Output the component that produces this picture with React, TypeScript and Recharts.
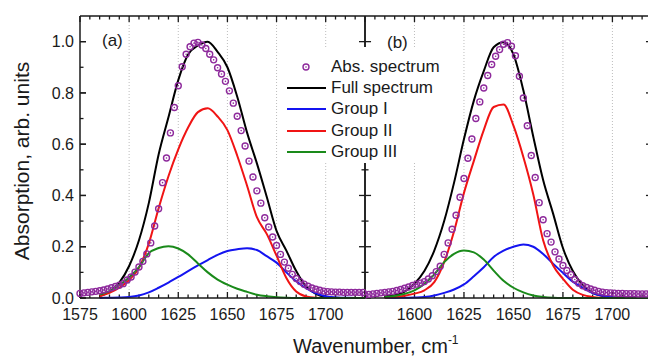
import { ComposedChart, Line, XAxis, YAxis, CartesianGrid, Legend, Label, ReferenceLine } from "recharts";

// measured absorption spectrum, sampled every 2 cm-1
const absWavenumbers = [
  1575, 1577, 1579, 1581, 1583, 1585, 1587, 1589, 1591, 1593, 1595, 1597, 1599, 1601, 1603, 1605,
  1607, 1609, 1611, 1613, 1615, 1617, 1619, 1621, 1623, 1625, 1627, 1629, 1631, 1633, 1635, 1637,
  1639, 1641, 1643, 1645, 1647, 1649, 1651, 1653, 1655, 1657, 1659, 1661, 1663, 1665, 1667, 1669,
  1671, 1673, 1675, 1677, 1679, 1681, 1683, 1685, 1687, 1689, 1691, 1693, 1695, 1697, 1699, 1701,
  1703, 1705, 1707, 1709, 1711, 1713, 1715, 1717, 1719,
];

// fitted curves, every 5 cm-1
const fitWavenumbers = [
  1585, 1590, 1595, 1600, 1605, 1610, 1615, 1620, 1625, 1630, 1635, 1640, 1645, 1650, 1655, 1660,
  1665, 1670, 1675, 1680, 1685, 1690, 1695, 1700, 1705, 1710, 1715, 1720,
];

// panel (a)
const absA = [
  0.018, 0.02, 0.022, 0.024, 0.026, 0.028, 0.031, 0.035, 0.04, 0.045, 0.05, 0.056, 0.07, 0.082, 0.101, 0.121,
  0.143, 0.172, 0.215, 0.281, 0.348, 0.45, 0.546, 0.644, 0.743, 0.828, 0.902, 0.951, 0.98, 0.994, 0.997, 0.987,
  0.973, 0.951, 0.929, 0.898, 0.874, 0.845, 0.808, 0.76, 0.709, 0.653, 0.593, 0.534, 0.472, 0.418, 0.37, 0.313,
  0.277, 0.238, 0.205, 0.17, 0.14, 0.116, 0.092, 0.076, 0.064, 0.054, 0.046, 0.039, 0.034, 0.03, 0.027, 0.025,
  0.024, 0.023, 0.023, 0.022, 0.022, 0.022, 0.022, 0.022, 0.022,
];
const fullA = [
  0.008, 0.025, 0.06, 0.125, 0.225, 0.37, 0.56, 0.705, 0.85, 0.95, 0.985, 1.0, 0.96, 0.9, 0.785, 0.645,
  0.525, 0.395, 0.262, 0.185, 0.105, 0.045, 0.016, 0.004, 0.001, 0, 0, 0,
];
const group1A = [
  0, 0.001, 0.002, 0.004, 0.01, 0.022, 0.04, 0.06, 0.082, 0.105, 0.127, 0.148, 0.168, 0.183, 0.19, 0.194,
  0.187, 0.163, 0.138, 0.1, 0.065, 0.038, 0.018, 0.007, 0.002, 0.001, 0, 0,
];
const group2A = [
  0.007, 0.02, 0.04, 0.07, 0.118, 0.212, 0.35, 0.475, 0.58, 0.665, 0.725, 0.74, 0.708, 0.655, 0.555, 0.438,
  0.315, 0.25, 0.165, 0.078, 0.025, 0.006, 0.001, 0, 0, 0, 0, 0,
];
const group3A = [
  0.014, 0.027, 0.05, 0.08, 0.12, 0.175, 0.195, 0.202, 0.193, 0.17, 0.135, 0.1, 0.072, 0.052, 0.036, 0.024,
  0.013, 0.007, 0.003, 0.001, 0, 0, 0, 0, 0, 0, 0, 0,
];

// panel (b)
const absB = [
  0.012, 0.014, 0.016, 0.018, 0.02, 0.022, 0.024, 0.026, 0.029, 0.033, 0.038, 0.043, 0.049, 0.054, 0.058, 0.064,
  0.074, 0.087, 0.103, 0.124, 0.17, 0.215, 0.268, 0.323, 0.393, 0.466, 0.545, 0.62, 0.7, 0.765, 0.819, 0.868,
  0.911, 0.943, 0.969, 0.99, 0.996, 0.982, 0.945, 0.865, 0.78, 0.672, 0.556, 0.47, 0.372, 0.305, 0.251, 0.218,
  0.18, 0.152, 0.127, 0.107, 0.091, 0.072, 0.058, 0.048, 0.041, 0.035, 0.03, 0.026, 0.023, 0.021, 0.02, 0.019,
  0.018, 0.018, 0.017, 0.017, 0.017, 0.016, 0.016, 0.016, 0.016,
];
const fullB = [
  0.007, 0.01, 0.025, 0.056, 0.105, 0.185, 0.3, 0.45, 0.62, 0.77, 0.885, 0.978, 0.998, 0.95, 0.81, 0.63,
  0.46, 0.33, 0.195, 0.105, 0.05, 0.02, 0.008, 0.002, 0, 0, 0, 0,
];
const group1B = [
  0, 0, 0.001, 0.002, 0.004, 0.01, 0.02, 0.033, 0.053, 0.085, 0.12, 0.16, 0.185, 0.2, 0.209, 0.2,
  0.172, 0.134, 0.098, 0.064, 0.04, 0.019, 0.009, 0.003, 0.001, 0, 0, 0,
];
const group2B = [
  0.001, 0.004, 0.009, 0.017, 0.03, 0.062, 0.14, 0.26, 0.41, 0.535, 0.655, 0.745, 0.755, 0.672, 0.55, 0.405,
  0.225, 0.128, 0.075, 0.032, 0.012, 0.004, 0.001, 0, 0, 0, 0, 0,
];
const group3B = [
  0.003, 0.008, 0.016, 0.03, 0.055, 0.092, 0.14, 0.172, 0.185, 0.178, 0.15, 0.107, 0.067, 0.04, 0.022, 0.01,
  0.004, 0.001, 0, 0, 0, 0, 0, 0, 0, 0, 0, 0,
];

// axes
const xMajor = [1575, 1600, 1625, 1650, 1675, 1700];
const xLabelsA = [1575, 1600, 1625, 1650, 1675, 1700];
const xLabelsB = [1600, 1625, 1650, 1675, 1700];
const xMinor = [
  1580, 1585, 1590, 1595, 1605, 1610, 1615, 1620, 1630, 1635, 1640, 1645, 1655, 1660, 1665, 1670,
  1680, 1685, 1690, 1695, 1705, 1710, 1715,
];
const xGrid = [1600, 1625, 1650, 1675, 1700];
const yMajor = [0, 0.2, 0.4, 0.6, 0.8, 1.0];
const yMinor = [0.1, 0.3, 0.5, 0.7, 0.9];

const X_DOMAIN: [number, number] = [1575, 1720];
const Y_DOMAIN: [number, number] = [0, 1.1];
// inward tick lengths in data units (about 6 px major, 3.5 px minor)
const X_TICK_MAJOR = 0.0235;
const X_TICK_MINOR = 0.0137;
const Y_TICK_MAJOR = 3.05;
const Y_TICK_MINOR = 1.78;

const INK = "#1a1a1a";
const PURPLE = "#8e2a9c";
const FONT = '"Liberation Sans", Arial, sans-serif';

const fits = [
  { name: "Full spectrum", color: "#000000", a: fullA, b: fullB },
  { name: "Group I", color: "#1414f0", a: group1A, b: group1B },
  { name: "Group II", color: "#f01414", a: group2A, b: group2B },
  { name: "Group III", color: "#1a8a1a", a: group3A, b: group3B },
];

const toPoints = (xs: number[], ys: number[]) => xs.map((x, i) => ({ x, y: ys[i] }));

const frame = { stroke: INK, strokeWidth: 1.5 };

const bottomLabel = (labels: number[]) => (p: any) => {
  const v = p.payload.value;
  if (!labels.includes(v)) return <g />;
  return (
    <text x={p.x} y={p.y + 22} textAnchor="middle" fontSize={16} fill={INK} fontFamily={FONT}>
      {v}
    </text>
  );
};

const leftLabel = (p: any) => (
  <g>
    <line x1={p.x} y1={p.y} x2={p.x + 6} y2={p.y} stroke={INK} strokeWidth={1.3} />
    <text x={p.x - 6} y={p.y} dy="0.36em" textAnchor="end" fontSize={16} fill={INK} fontFamily={FONT}>
      {p.payload.value.toFixed(1)}
    </text>
  </g>
);

const noLabel = () => <g />;

const ringDot = (p: any) => {
  if (p.cx == null || p.cy == null) return <g key={p.index} />;
  return (
    <g key={p.index}>
      <circle cx={p.cx} cy={p.cy} r={3} fill="none" stroke={PURPLE} strokeWidth={1.4} />
      <circle cx={p.cx} cy={p.cy} r={0.8} fill={PURPLE} />
    </g>
  );
};

const LegendBox = () => (
  <div
    style={{
      fontFamily: FONT,
      fontSize: 17,
      color: INK,
      background: "#fff",
      paddingTop: 9,
      paddingLeft: 5,
      height: 116,
      boxSizing: "border-box",
    }}
  >
    <div style={{ display: "flex", alignItems: "center", height: 21.3 }}>
      <svg width={44} height={12}>
        <circle cx={19} cy={6} r={3} fill="none" stroke={PURPLE} strokeWidth={1.4} />
        <circle cx={19} cy={6} r={0.8} fill={PURPLE} />
      </svg>
      <span>Abs. spectrum</span>
    </div>
    {fits.map((f) => (
      <div key={f.name} style={{ display: "flex", alignItems: "center", height: 21.3 }}>
        <svg width={44} height={12}>
          <line x1={0} y1={6} x2={39} y2={6} stroke={f.color} strokeWidth={2} />
        </svg>
        <span>{f.name}</span>
      </div>
    ))}
  </div>
);

const YTitle = () => (
  <text transform="translate(21,161) rotate(-90)" dy="0.36em" textAnchor="middle" fontSize={21} fill={INK} fontFamily={FONT}>
    Absorption, arb. units
  </text>
);

const XTitle = () => (
  <text x={293} y={353} fontSize={20} fill={INK} fontFamily={FONT}>
    Wavenumber, cm
    <tspan dy={-9} fontSize={12}>
      -1
    </tspan>
  </text>
);

// inward tick marks on all four sides, as short segments in data coordinates
function tickMarks() {
  const [x0, x1] = X_DOMAIN;
  const [y0, y1] = Y_DOMAIN;
  const seg = (key: string, a: { x: number; y: number }, b: { x: number; y: number }) => (
    <ReferenceLine key={key} segment={[a, b]} stroke={INK} strokeWidth={1.3} ifOverflow="visible" />
  );
  const out: any[] = [];
  [...xMajor.map((v) => [v, X_TICK_MAJOR]), ...xMinor.map((v) => [v, X_TICK_MINOR])].forEach(([v, len]) => {
    out.push(seg(`b${v}`, { x: v, y: y0 }, { x: v, y: y0 + len }));
    out.push(seg(`t${v}`, { x: v, y: y1 }, { x: v, y: y1 - len }));
  });
  [...yMajor.map((v) => [v, Y_TICK_MAJOR]), ...yMinor.map((v) => [v, Y_TICK_MINOR])].forEach(([v, len]) => {
    out.push(seg(`l${v}`, { x: x0, y: v }, { x: x0 + len, y: v }));
    out.push(seg(`r${v}`, { x: x1, y: v }, { x: x1 - len, y: v }));
  });
  return out;
}

function Panel({ which }: { which: "a" | "b" }) {
  const isA = which === "a";
  const abs = toPoints(absWavenumbers, isA ? absA : absB);
  return (
    <ComposedChart
      width={isA ? 648 : 660}
      height={357}
      data={abs}
      margin={isA ? { top: 16, right: 283, bottom: 19, left: 0 } : { top: 16, right: 8, bottom: 19, left: 325 }}
    >
      <CartesianGrid horizontal={false} verticalValues={xGrid} stroke="#bdbdbd" strokeDasharray="1 2" />
      <XAxis
        dataKey="x"
        type="number"
        domain={X_DOMAIN}
        ticks={isA ? xLabelsA : xLabelsB}
        interval={0}
        tickSize={0}
        tickMargin={0}
        tickLine={false}
        tick={bottomLabel(isA ? xLabelsA : xLabelsB)}
        axisLine={frame}
        height={40}
      >
        {isA && <Label content={XTitle} />}
      </XAxis>
      <YAxis
        type="number"
        domain={Y_DOMAIN}
        ticks={yMajor}
        interval={0}
        tickSize={0}
        tickMargin={0}
        tickLine={false}
        tick={isA ? leftLabel : noLabel}
        axisLine={frame}
        width={isA ? 80 : 40}
      >
        {isA && <Label content={YTitle} />}
      </YAxis>
      <ReferenceLine y={Y_DOMAIN[1]} stroke={INK} strokeWidth={1.5} ifOverflow="visible" />
      <ReferenceLine x={X_DOMAIN[1]} stroke={INK} strokeWidth={1.5} ifOverflow="visible" />
      {tickMarks()}
      {isA && (
        <Legend
          layout="vertical"
          align="center"
          verticalAlign="middle"
          content={LegendBox}
          wrapperStyle={{ left: 282, top: 47, width: 170, height: 116 }}
        />
      )}
      {fits.map((f) => (
        <Line
          key={f.name}
          data={toPoints(fitWavenumbers, isA ? f.a : f.b)}
          dataKey="y"
          name={f.name}
          type="monotone"
          stroke={f.color}
          strokeWidth={2}
          dot={false}
          activeDot={false}
          isAnimationActive={false}
        />
      ))}
      <Line
        dataKey="y"
        name="Abs. spectrum"
        stroke="none"
        dot={ringDot}
        activeDot={false}
        isAnimationActive={false}
      />
    </ComposedChart>
  );
}

export default function App() {
  return (
    <div style={{ position: "relative", width: 648, height: 357, overflow: "hidden", background: "#fff", fontFamily: FONT }}>
      <style>{"body{margin:0}"}</style>
      <div style={{ position: "absolute", left: 0, top: 0 }}>
        <Panel which="b" />
      </div>
      <div style={{ position: "absolute", left: 0, top: 0 }}>
        <Panel which="a" />
      </div>
      <div style={{ position: "absolute", left: 102, top: 31, fontSize: 17, color: INK }}>(a)</div>
      <div style={{ position: "absolute", left: 387, top: 33, fontSize: 17, color: INK }}>(b)</div>
    </div>
  );
}
